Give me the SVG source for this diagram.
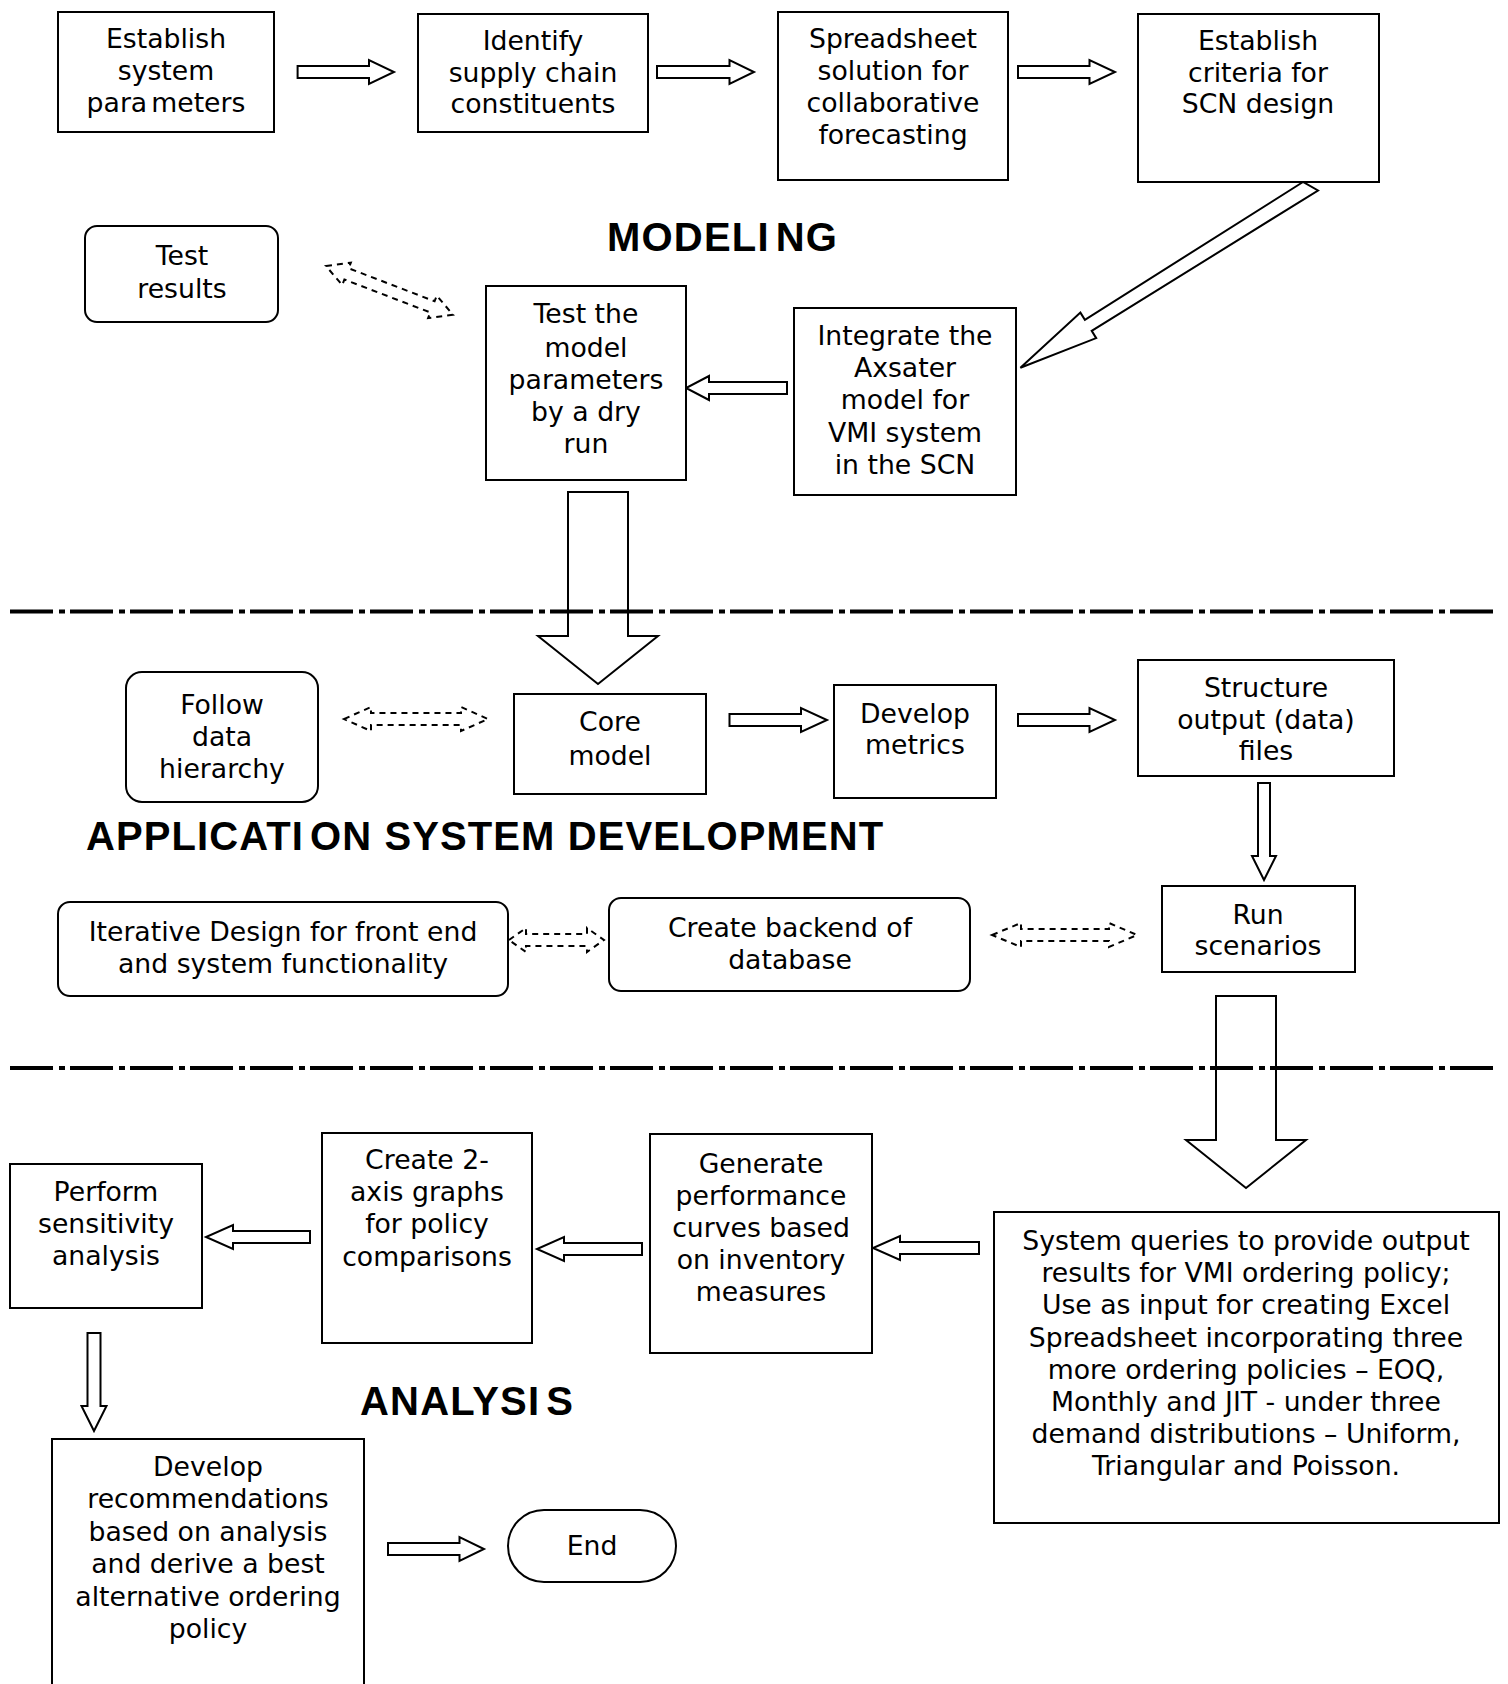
<svg xmlns="http://www.w3.org/2000/svg" width="1508" height="1684" viewBox="0 0 1508 1684">
  <style>
    .box { fill: #fff; stroke: #000; stroke-width: 2; }
    .t { font-family: "DejaVu Sans", Verdana, sans-serif; font-size: 26.7px; text-anchor: middle; fill: #000; }
    .h { font-family: "Liberation Sans", Arial, sans-serif; font-weight: bold; font-size: 40px; letter-spacing: 1.2px; fill: #000; }
    .arrow { fill: #fff; stroke: #000; stroke-width: 2; stroke-linejoin: miter; }
    .dash { fill: #fff; stroke: #000; stroke-width: 2; stroke-dasharray: 6 5; }
    .sep { stroke: #000; stroke-width: 4; stroke-dasharray: 43 6 6 5; fill: none; }
  </style>

  <rect width="1508" height="1684" fill="#fff"/>

  <!-- connectors -->
  <g id="connectors">
    <!-- modeling row -->
    <path class="arrow" d="M297.6,66 H369 V60 L394,72 L369,84 V78 H297.6 Z"/>
    <path class="arrow" d="M657,66 H729.5 V60 L754,72 L729.5,84 V78 H657 Z"/>
    <path class="arrow" d="M1018,66 H1089.5 V60 L1115,72 L1089.5,84 V78 H1018 Z"/>
    <path class="arrow" d="M1303,182 L1084.9,319.8 L1080.4,312.6 L1020.4,367.7 L1096.2,338.1 L1091.7,330.9 L1318,190.5 Z"/>
    <path class="arrow" d="M787,382 H709 V376 L686,388 L709,400 V394 H787 Z"/>
    <path class="dash" transform="translate(326,266) rotate(21)" d="M0,0 L22,-12 V-6 H114 V-12 L136,0 L114,12 V6 H22 V12 Z"/>
    <path class="arrow" d="M568,492 V636 H538 L598,684 L658,636 H628 V492 Z"/>

    <!-- application row -->
    <path class="dash" d="M344,719 L371,707 V713 H461 V707 L488,719 L461,731 V725 H371 V731 Z"/>
    <path class="arrow" d="M729.5,714 H801 V708 L827,720 L801,732 V726 H729.5 Z"/>
    <path class="arrow" d="M1018,714 H1089.5 V708 L1115,720 L1089.5,732 V726 H1018 Z"/>
    <path class="arrow" d="M1258,783 V856 H1252 L1264,880 L1276,856 H1270 V783 Z"/>
    <path class="dash" d="M509,940 L526,928 V934 H587 V928 L604,940 L587,952 V946 H526 V952 Z"/>
    <path class="dash" d="M992,935 L1021,923 V929 H1109 V923 L1137,935 L1109,947 V941 H1021 V947 Z"/>
    <path class="arrow" d="M1216,996 V1140 H1186 L1246,1188 L1306,1140 H1276 V996 Z"/>

    <!-- analysis row -->
    <path class="arrow" d="M979,1242 H900 V1236 L873,1248 L900,1260 V1254 H979 Z"/>
    <path class="arrow" d="M642,1243 H564 V1237 L537,1249 L564,1261 V1255 H642 Z"/>
    <path class="arrow" d="M310,1231 H233 V1225 L206,1237 L233,1249 V1243 H310 Z"/>
    <path class="arrow" d="M87.5,1333 V1406 H81.5 L94,1431 L106.5,1406 H100.5 V1333 Z"/>
    <path class="arrow" d="M388,1543 H459.5 V1537 L484,1549 L459.5,1561 V1555 H388 Z"/>
  </g>

  <!-- phase separators -->
  <line class="sep" x1="10" y1="611.5" x2="1498" y2="611.5"/>
  <line class="sep" x1="10" y1="1068" x2="1498" y2="1068"/>

  <!-- phase headings -->
  <text class="h" x="607" y="251">MODELI<tspan dx="6">NG</tspan></text>
  <text class="h" x="86" y="850" style="letter-spacing:1.1px">APPLICATI<tspan dx="6">ON SYSTEM DEVELOPMENT</tspan></text>
  <text class="h" x="360" y="1415">ANALYSI<tspan dx="6">S</tspan></text>

  <!-- modeling nodes -->
  <g id="establish-parameters">
    <rect class="box" x="58" y="12" width="216" height="120"/>
    <text class="t" x="166" y="48">Establish</text>
    <text class="t" x="166" y="80">system</text>
    <text class="t" x="166" y="112">para<tspan dx="4">meters</tspan></text>
  </g>
  <g id="identify-constituents">
    <rect class="box" x="418" y="14" width="230" height="118"/>
    <text class="t" x="533" y="50">Identify</text>
    <text class="t" x="533" y="82">supply chain</text>
    <text class="t" x="533" y="113">constituents</text>
  </g>
  <g id="spreadsheet-solution">
    <rect class="box" x="778" y="12" width="230" height="168"/>
    <text class="t" x="893" y="48">Spreadsheet</text>
    <text class="t" x="893" y="80">solution for</text>
    <text class="t" x="893" y="112">collaborative</text>
    <text class="t" x="893" y="144">forecasting</text>
  </g>
  <g id="establish-criteria">
    <rect class="box" x="1138" y="14" width="241" height="168"/>
    <text class="t" x="1258" y="50">Establish</text>
    <text class="t" x="1258" y="82">criteria for</text>
    <text class="t" x="1258" y="113">SCN design</text>
  </g>
  <g id="test-results">
    <rect class="box" x="85" y="226" width="193" height="96" rx="12"/>
    <text class="t" x="182" y="265">Test</text>
    <text class="t" x="182" y="298">results</text>
  </g>
  <g id="test-model">
    <rect class="box" x="486" y="286" width="200" height="194"/>
    <text class="t" x="586" y="323">Test the</text>
    <text class="t" x="586" y="357">model</text>
    <text class="t" x="586" y="389">parameters</text>
    <text class="t" x="586" y="421">by a dry</text>
    <text class="t" x="586" y="453">run</text>
  </g>
  <g id="integrate-model">
    <rect class="box" x="794" y="308" width="222" height="187"/>
    <text class="t" x="905" y="345">Integrate the</text>
    <text class="t" x="905" y="377">Axsater</text>
    <text class="t" x="905" y="409">model for</text>
    <text class="t" x="905" y="442">VMI system</text>
    <text class="t" x="905" y="474">in the SCN</text>
  </g>

  <!-- application system development nodes -->
  <g id="follow-hierarchy">
    <rect class="box" x="126" y="672" width="192" height="130" rx="16"/>
    <text class="t" x="222" y="714">Follow</text>
    <text class="t" x="222" y="746">data</text>
    <text class="t" x="222" y="778">hierarchy</text>
  </g>
  <g id="core-model">
    <rect class="box" x="514" y="694" width="192" height="100"/>
    <text class="t" x="610" y="731">Core</text>
    <text class="t" x="610" y="765">model</text>
  </g>
  <g id="develop-metrics">
    <rect class="box" x="834" y="685" width="162" height="113"/>
    <text class="t" x="915" y="723">Develop</text>
    <text class="t" x="915" y="754">metrics</text>
  </g>
  <g id="structure-output">
    <rect class="box" x="1138" y="660" width="256" height="116"/>
    <text class="t" x="1266" y="697">Structure</text>
    <text class="t" x="1266" y="729">output (data)</text>
    <text class="t" x="1266" y="760">files</text>
  </g>
  <g id="run-scenarios">
    <rect class="box" x="1162" y="886" width="193" height="86"/>
    <text class="t" x="1258" y="924">Run</text>
    <text class="t" x="1258" y="955">scenarios</text>
  </g>
  <g id="iterative-design">
    <rect class="box" x="58" y="902" width="450" height="94" rx="12"/>
    <text class="t" x="283" y="941">Iterative Design for front end</text>
    <text class="t" x="283" y="973">and system functionality</text>
  </g>
  <g id="create-backend">
    <rect class="box" x="609" y="898" width="361" height="93" rx="12"/>
    <text class="t" x="790" y="937">Create backend of</text>
    <text class="t" x="790" y="969">database</text>
  </g>

  <!-- analysis nodes -->
  <g id="system-queries">
    <rect class="box" x="994" y="1212" width="505" height="311"/>
    <text class="t" x="1246" y="1250">System queries to provide output</text>
    <text class="t" x="1246" y="1282">results for VMI ordering policy;</text>
    <text class="t" x="1246" y="1314">Use as input for creating Excel</text>
    <text class="t" x="1246" y="1347">Spreadsheet incorporating three</text>
    <text class="t" x="1246" y="1379">more ordering policies – EOQ,</text>
    <text class="t" x="1246" y="1411">Monthly and JIT - under three</text>
    <text class="t" x="1246" y="1443">demand distributions – Uniform,</text>
    <text class="t" x="1246" y="1475">Triangular and Poisson.</text>
  </g>
  <g id="generate-curves">
    <rect class="box" x="650" y="1134" width="222" height="219"/>
    <text class="t" x="761" y="1173">Generate</text>
    <text class="t" x="761" y="1205">performance</text>
    <text class="t" x="761" y="1237">curves based</text>
    <text class="t" x="761" y="1269">on inventory</text>
    <text class="t" x="761" y="1301">measures</text>
  </g>
  <g id="create-graphs">
    <rect class="box" x="322" y="1133" width="210" height="210"/>
    <text class="t" x="427" y="1169">Create 2-</text>
    <text class="t" x="427" y="1201">axis graphs</text>
    <text class="t" x="427" y="1233">for policy</text>
    <text class="t" x="427" y="1266">comparisons</text>
  </g>
  <g id="sensitivity-analysis">
    <rect class="box" x="10" y="1164" width="192" height="144"/>
    <text class="t" x="106" y="1201">Perform</text>
    <text class="t" x="106" y="1233">sensitivity</text>
    <text class="t" x="106" y="1265">analysis</text>
  </g>
  <g id="develop-recommendations">
    <rect class="box" x="52" y="1439" width="312" height="260"/>
    <text class="t" x="208" y="1476">Develop</text>
    <text class="t" x="208" y="1508">recommendations</text>
    <text class="t" x="208" y="1541">based on analysis</text>
    <text class="t" x="208" y="1573">and derive a best</text>
    <text class="t" x="208" y="1606">alternative ordering</text>
    <text class="t" x="208" y="1638">policy</text>
  </g>
  <g id="end">
    <rect class="box" x="508" y="1510" width="168" height="72" rx="36"/>
    <text class="t" x="592" y="1555">End</text>
  </g>
</svg>
